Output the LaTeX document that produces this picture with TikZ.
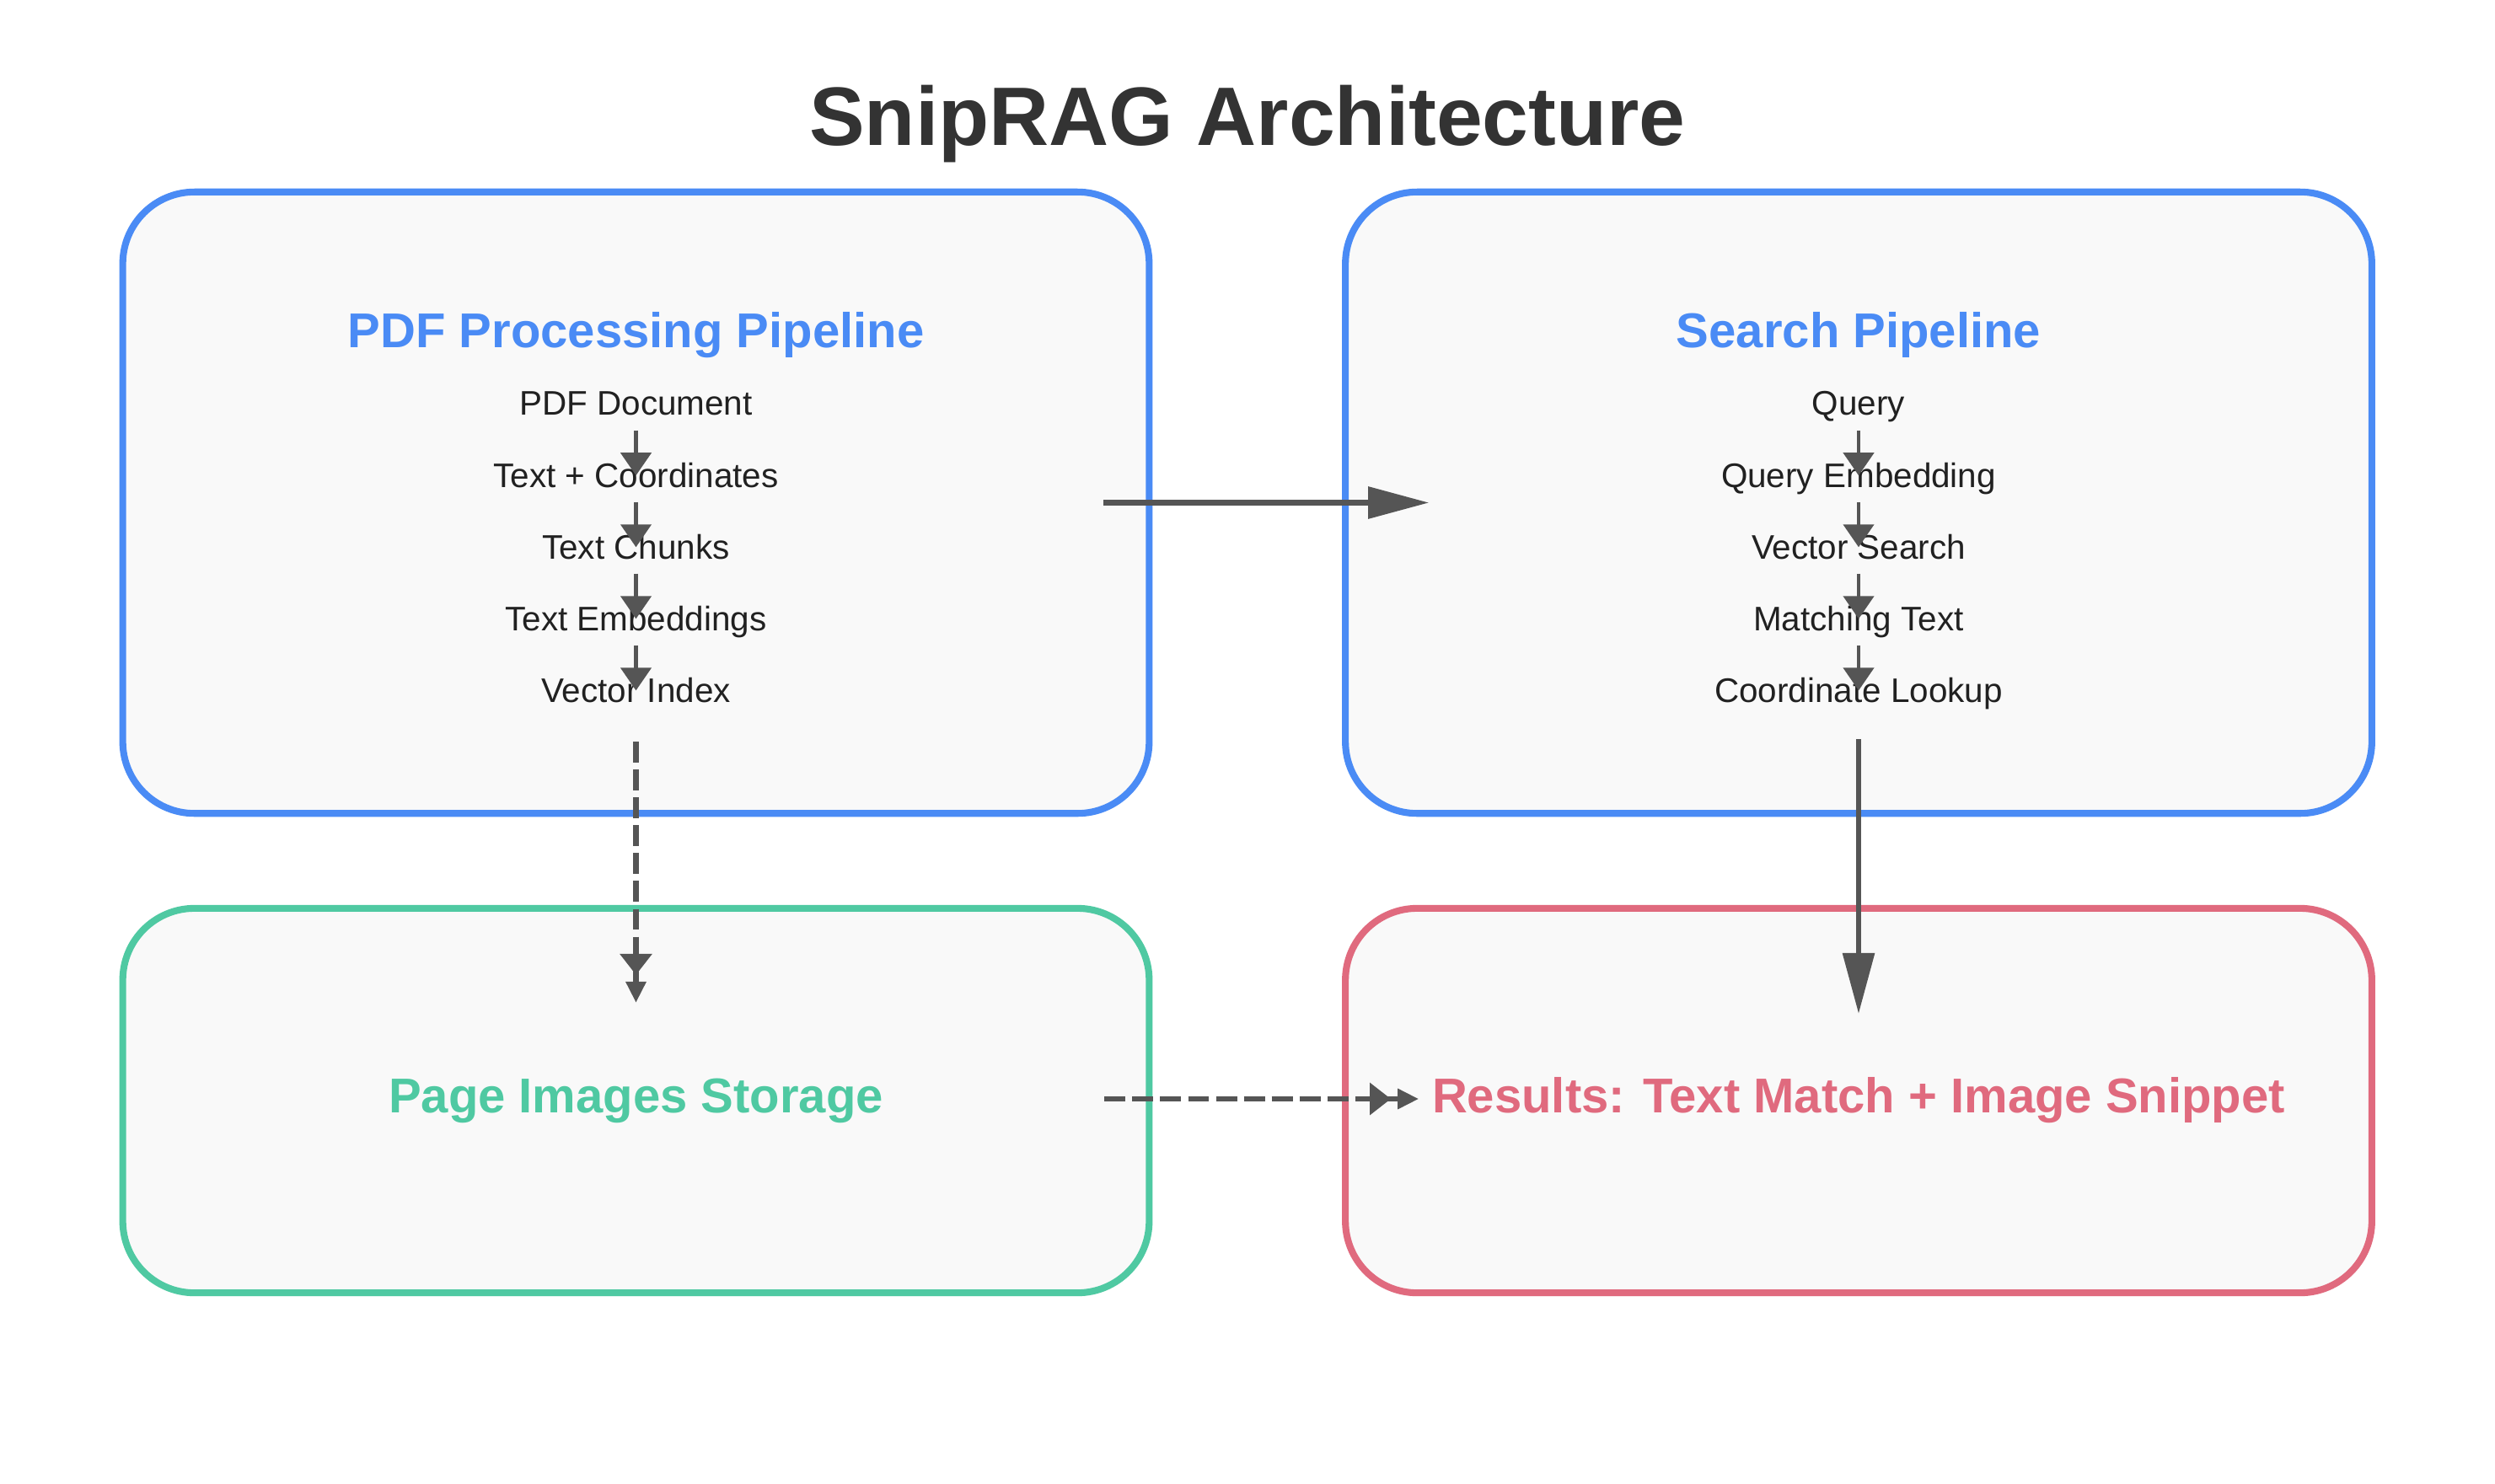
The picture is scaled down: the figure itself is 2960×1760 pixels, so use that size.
\documentclass[tikz,border=0pt]{standalone}
\usepackage{fontspec}
\setmainfont{Liberation Sans}
\usepackage{tikz}
\usetikzlibrary{arrows.meta,positioning,calc}
\definecolor{pipeblue}{HTML}{4A8BF5}
\definecolor{storegreen}{HTML}{4FC9A2}
\definecolor{resultred}{HTML}{E06A7E}
\definecolor{panelfill}{HTML}{F9F9F9}
\definecolor{linkgray}{HTML}{555555}
\tikzstyle{flow}=[color=linkgray, line width=1.8pt, -{Triangle[length=20.5pt,width=10.5pt]}]
\tikzstyle{dashflow}=[color=linkgray, line width=1.8pt, dash pattern=on 7.1pt off 2.3pt,
  -{Triangle[length=7.1pt,width=10.5pt,sep=2.3pt]Triangle[length=7.1pt,width=6.5pt]}]
\tikzstyle{stepflow}=[color=linkgray, line width=1.4pt, -{Triangle[length=7.7pt,width=10.2pt]}]

\begin{document}
\begin{tikzpicture}[x=0.01cm,y=-0.01cm,
          panel/.style={rectangle,rounded corners=0.85cm,fill=panelfill,line width=2.3pt,
            minimum width=12.17cm,outer sep=0pt},
          head/.style={font=\bfseries\fontsize{16.5}{20}\selectfont,anchor=base},
          item/.style={font=\fontsize{11.5}{14}\selectfont,text=black!87,inner sep=0pt,
            text height=8.2pt,text depth=2.4pt,anchor=base}]
        \fill[white] (0,0) rectangle (2960,1760);
        \useasboundingbox (0,0) rectangle (2960,1760);
        \node [font=\bfseries\fontsize{28}{34}\selectfont,text=black!80,anchor=base] (title) at (1480,172) {SnipRAG Architecture};

        \node [panel,draw=pipeblue,minimum height=7.37cm] (pdf) at (754.5,596.5) {};
        \node [panel,draw=pipeblue,minimum height=7.37cm] (search) at (2205,596.5) {};
        \node [panel,draw=storegreen,minimum height=4.56cm] (store) at (754.5,1306) {};
        \node [panel,draw=resultred,minimum height=4.56cm] (result) at (2205,1306) {};

        \node [head,text=pipeblue] (pdfhead) at ([yshift=-1.85cm]pdf.north) {PDF Processing Pipeline};
        \node [item] (pdfdoc) at ([yshift=-2.65cm]pdf.north) {PDF Document};
        \node [item,below=0.85cm of pdfdoc.base,anchor=base] (pdftext) {Text + Coordinates};
        \node [item,below=0.85cm of pdftext.base,anchor=base] (pdfchunk) {Text Chunks};
        \node [item,below=0.85cm of pdfchunk.base,anchor=base] (pdfembed) {Text Embeddings};
        \node [item,below=0.85cm of pdfembed.base,anchor=base] (pdfvec) {Vector Index};

        \node [head,text=pipeblue] (srchhead) at ([yshift=-1.85cm]search.north) {Search Pipeline};
        \node [item] (srchquery) at ([yshift=-2.65cm]search.north) {Query};
        \node [item,below=0.85cm of srchquery.base,anchor=base] (srchembed) {Query Embedding};
        \node [item,below=0.85cm of srchembed.base,anchor=base] (srchvec) {Vector Search};
        \node [item,below=0.85cm of srchvec.base,anchor=base] (srchmatch) {Matching Text};
        \node [item,below=0.85cm of srchmatch.base,anchor=base] (srchlook) {Coordinate Lookup};

        \node [head,text=storegreen] (storelabel) at ([yshift=-0.14cm]store.center) {Page Images Storage};
        \node [head,text=resultred] (resultlabel) at ([yshift=-0.14cm]result.center) {Results: Text Match + Image Snippet};

        \path[stepflow]
        ([yshift=-2.4pt]pdfdoc.south)    edge ([yshift=-4.5pt]pdftext.north)
        ([yshift=-2.4pt]pdftext.south)   edge ([yshift=-4.5pt]pdfchunk.north)
        ([yshift=-2.4pt]pdfchunk.south)  edge ([yshift=-4.5pt]pdfembed.north)
        ([yshift=-2.4pt]pdfembed.south)  edge ([yshift=-4.5pt]pdfvec.north)
        ([yshift=-2.4pt]srchquery.south) edge ([yshift=-4.5pt]srchembed.north)
        ([yshift=-2.4pt]srchembed.south) edge ([yshift=-4.5pt]srchvec.north)
        ([yshift=-2.4pt]srchvec.south)   edge ([yshift=-4.5pt]srchmatch.north)
        ([yshift=-2.4pt]srchmatch.south) edge ([yshift=-4.5pt]srchlook.north);

        \coordinate (pdfout) at ([xshift=-0.54cm]pdf.east);
        \coordinate (searchin) at ([xshift=0.99cm]search.west);
        \coordinate (vecout) at ([yshift=-0.47cm]pdfvec.base);
        \coordinate (storein) at ([yshift=-1.12cm]store.north);
        \coordinate (lookout) at ([yshift=-0.44cm]srchlook.base);
        \coordinate (resultin) at ([yshift=-1.25cm]result.north);
        \coordinate (storeout) at ([xshift=-0.53cm,yshift=0.02cm]store.east);
        \coordinate (resultleft) at ([xshift=0.87cm,yshift=0.02cm]result.west);

        \path[flow] (pdfout) edge (searchin)
        (lookout) edge (resultin);
        \path[dashflow] (vecout) edge (storein)
        (storeout) edge (resultleft);
      \end{tikzpicture}
\end{document}
